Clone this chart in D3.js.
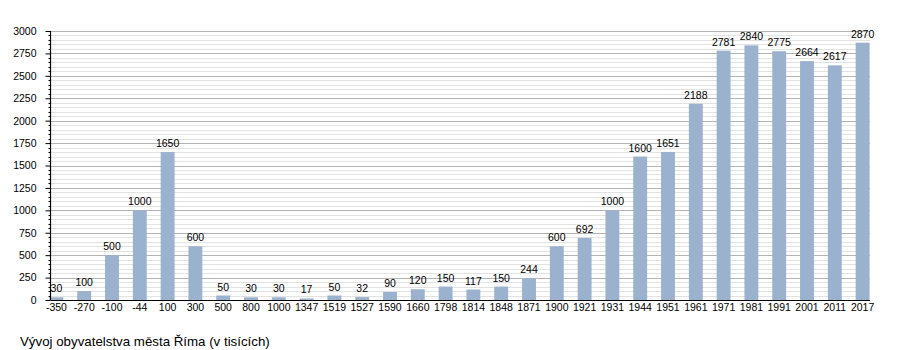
<!DOCTYPE html>
<html><head><meta charset="utf-8">
<script src="https://cdn.jsdelivr.net/npm/d3@7"></script>
<style>body{margin:0;background:#fff}svg{display:block;font-family:"Liberation Sans",Arial,sans-serif}</style>
</head><body>
<svg id="c" width="900" height="350"></svg>
<script>
const years = ["-350","-270","-100","-44","100","300","500","800","1000","1347","1519","1527","1590","1660","1798","1814","1848","1871","1900","1921","1931","1944","1951","1961","1971","1981","1991","2001","2011","2017"];
const population = [30,100,500,1000,1650,600,50,30,30,17,50,32,90,120,150,117,150,244,600,692,1000,1600,1651,2188,2781,2840,2775,2664,2617,2870];
const yTicks = [0,250,500,750,1000,1250,1500,1750,2000,2250,2500,2750,3000];
const caption = "Vývoj obyvatelstva města Říma (v tisících)";

const svg = d3.select("#c");
const x = d3.scaleBand().domain(years).range([42.5, 876.5]).paddingInner(0.5).paddingOuter(0.25);
const y = d3.scaleLinear().domain([0, 3000]).range([300, 31]);
const axL = 50.5, axR = 870;

// minor grid
const minor = d3.range(50, 3001, 50).filter(v => v % 250 !== 0);
svg.append("g").selectAll("line").data(minor).join("line")
  .attr("x1", axL).attr("x2", axR)
  .attr("y1", d => Math.round(y(d)) + 0.5).attr("y2", d => Math.round(y(d)) + 0.5)
  .attr("stroke", "#e2e2e2").attr("stroke-width", 1);
// major grid
svg.append("g").selectAll("line").data(yTicks.filter(v => v > 0)).join("line")
  .attr("x1", axL).attr("x2", axR)
  .attr("y1", d => Math.round(y(d)) + 0.5).attr("y2", d => Math.round(y(d)) + 0.5)
  .attr("stroke", "#b4b4b4").attr("stroke-width", 1);

// bars
svg.append("g").selectAll("rect").data(years).join("rect")
  .attr("x", d => x(d)).attr("width", x.bandwidth())
  .attr("y", (d, i) => y(population[i])).attr("height", (d, i) => y(0) - y(population[i]))
  .attr("fill", "#9bb2cf");

// value labels
svg.append("g").selectAll("text").data(years).join("text")
  .attr("x", d => x(d) + x.bandwidth() / 2)
  .attr("y", (d, i) => y(population[i]) - 5)
  .attr("text-anchor", "middle").attr("font-size", 10.5).attr("fill", "#000")
  .text((d, i) => population[i]);

// y axis
const yAxis = d3.axisLeft(y).tickValues(yTicks).tickFormat(d3.format("d")).tickSize(5).tickPadding(9);
const gy = svg.append("g").attr("transform", `translate(${axL},0)`).call(yAxis);
gy.select(".domain").remove();
gy.selectAll("text").attr("font-size", 10.5).attr("font-family", "Liberation Sans, Arial, sans-serif").attr("fill", "#000");
gy.selectAll("line").attr("stroke", "#000");
// minor ticks
svg.append("g").selectAll("line").data(minor).join("line")
  .attr("x1", axL - 2).attr("x2", axL)
  .attr("y1", d => Math.round(y(d)) + 0.5).attr("y2", d => Math.round(y(d)) + 0.5)
  .attr("stroke", "#000");
svg.append("line").attr("x1", axL).attr("x2", axL).attr("y1", y(3000)).attr("y2", 300.5).attr("stroke", "#000").attr("stroke-width", 1.2);

// x axis
const xAxis = d3.axisBottom(x).tickSize(0).tickPadding(4);
const gx = svg.append("g").attr("transform", "translate(0,300)").call(xAxis);
gx.select(".domain").remove();
gx.selectAll("text").attr("font-size", 10.5).attr("font-family", "Liberation Sans, Arial, sans-serif").attr("fill", "#000");
svg.append("line").attr("x1", axL).attr("x2", axR).attr("y1", 300.5).attr("y2", 300.5).attr("stroke", "#000").attr("stroke-width", 1.2);

svg.append("text").attr("x", 20).attr("y", 346).attr("font-size", 13.3).attr("fill", "#000").text(caption);
</script>
</body></html>
